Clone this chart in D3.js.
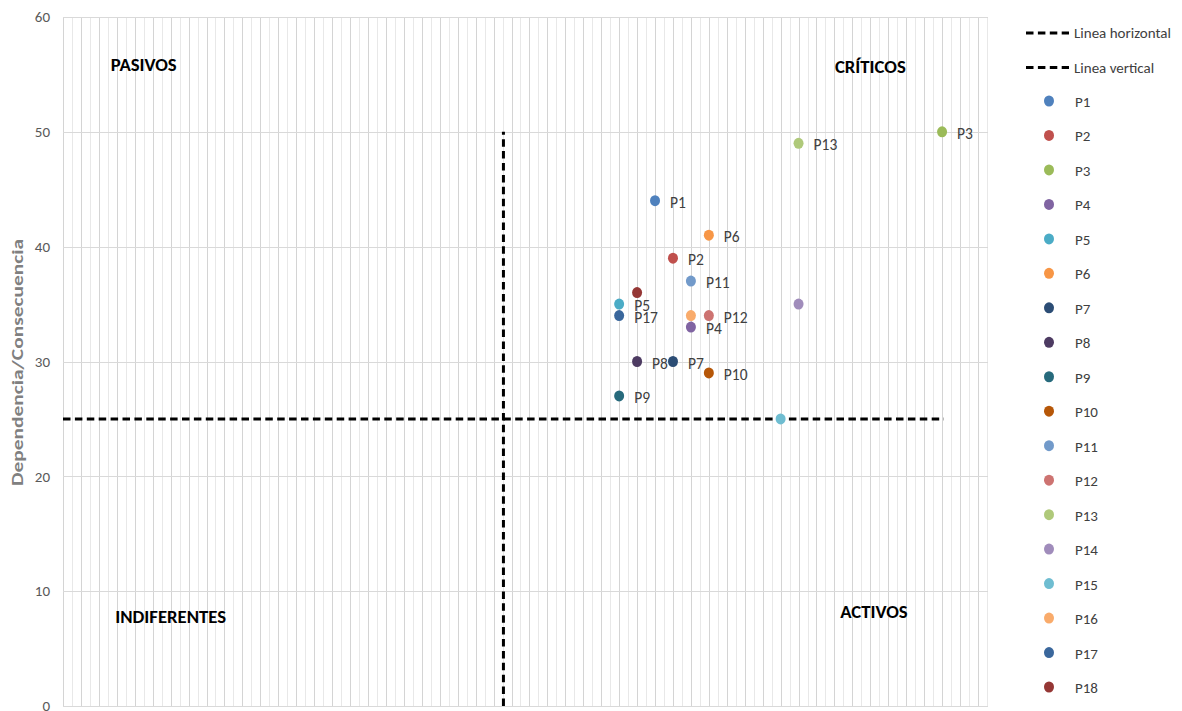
<!DOCTYPE html>
<html><head><meta charset="utf-8">
<script src="https://cdn.jsdelivr.net/npm/d3@7"></script>
<style>
body{margin:0;background:#fff;}
text{font-family:Carlito,"Liberation Sans Narrow","Open Sans",sans-serif;}
</style></head>
<body><svg id="chart" width="1182" height="711"></svg>
<script>
const names = ["P1","P2","P3","P4","P5","P6","P7","P8","P9","P10","P11","P12","P13","P14","P15","P16","P17","P18"];
const xValues = [34,35,50,36,32,37,35,33,32,37,36,37,42,42,41,36,32,33];
const yValues = [44,39,50,33,35,41,30,30,27,29,37,34,49,35,25,34,34,36];
const showLabel = [true,true,true,true,true,true,true,true,true,true,true,true,true,false,false,false,true,false];
const colors = ["#4F81BD","#C0504D","#9BBB59","#8064A2","#4BACC6","#F79646","#2C4D75","#4D3B62","#276A7C","#B65708","#729ACA","#CD7371","#AFC97A","#A08CBB","#6FBDD1","#F9AB6B","#3A679C","#953735"];
const yTicks = [0,10,20,30,40,50,60];
const hLine = [[1,25],[50.1,25]];
const vLine = [[25.55,0],[25.55,50]];
const quadrants = [
  {t:"PASIVOS", x:5.5, y:55.3},
  {t:"CRÍTICOS", x:46.0, y:55.1},
  {t:"INDIFERENTES", x:7.0, y:7.2},
  {t:"ACTIVOS", x:46.2, y:7.7}
];
const legendLines = ["Linea horizontal","Linea vertical"];

const svg = d3.select("#chart");
const L=63, R=988, T=17, B=706;
const x = d3.scaleLinear().domain([1,52.56]).range([L,R]);
const y = d3.scaleLinear().domain([0,60]).range([B,T]);

const g = svg.append("g");
// vertical gridlines every 0.5
const vg = d3.range(1,52.57,0.5);
g.selectAll(".vg").data(vg).enter().append("line")
  .attr("x1",d=>Math.round(x(d))+0.5).attr("x2",d=>Math.round(x(d))+0.5)
  .attr("y1",T).attr("y2",B)
  .attr("stroke",(d,i)=>i%2===0?"#d4d4d4":"#e8e8e8").attr("stroke-width",1);
// horizontal gridlines
g.selectAll(".hg").data(yTicks).enter().append("line")
  .attr("x1",L).attr("x2",R)
  .attr("y1",d=>Math.round(y(d))+0.5).attr("y2",d=>Math.round(y(d))+0.5)
  .attr("stroke","#d9d9d9").attr("stroke-width",1);

// y axis labels
const yAxis = d3.axisLeft(y).tickValues(yTicks).tickSize(0).tickPadding(13);
const ya = svg.append("g").attr("transform",`translate(${L},0)`).call(yAxis);
ya.select(".domain").remove();
ya.selectAll("text").attr("font-size","15px").attr("fill","#595959")
  .style("font-family",'Carlito,"Liberation Sans Narrow","Open Sans",sans-serif');

svg.append("text").attr("transform",`translate(23,${(T+B)/2+1}) rotate(-90)`)
  .attr("text-anchor","middle").attr("font-size","15px").attr("font-weight","bold")
  .attr("fill","#808080").attr("textLength",247).attr("lengthAdjust","spacingAndGlyphs")
  .text("Dependencia/Consecuencia");

// dashed lines
const line = d3.line().x(d=>x(d[0])).y(d=>y(d[1]));
[hLine,vLine].forEach(dat=>{
  svg.append("path").attr("d",line(dat)).attr("fill","none").attr("stroke","#000")
    .attr("stroke-width",3).attr("stroke-dasharray","7.5,4.4");
});

// quadrant labels
svg.selectAll(".q").data(quadrants).enter().append("text")
  .attr("x",d=>x(d.x)).attr("y",d=>y(d.y)).attr("text-anchor","middle")
  .attr("font-size","18.7px").attr("font-weight","bold").attr("fill","#000")
  .text(d=>d.t);

// points
const pts = names.map((n,i)=>({n,x:xValues[i],y:yValues[i],c:colors[i],s:showLabel[i]}));
svg.selectAll(".pt").data(pts).enter().append("ellipse")
  .attr("cx",d=>x(d.x)).attr("cy",d=>y(d.y)).attr("rx",5).attr("ry",5.5)
  .attr("fill",d=>d.c);
svg.selectAll(".lbl").data(pts.filter(d=>d.s)).enter().append("text")
  .attr("x",d=>x(d.x)+15).attr("y",d=>y(d.y)+7)
  .attr("font-size","15.5px").attr("fill","#404040").text(d=>d.n);

// legend
const lg = svg.append("g");
legendLines.forEach((t,i)=>{
  const yy = 33 + i*34.5;
  lg.append("line").attr("x1",1026).attr("x2",1069).attr("y1",yy).attr("y2",yy)
    .attr("stroke","#000").attr("stroke-width",3).attr("stroke-dasharray","7.5,4.4");
  lg.append("text").attr("x",1074).attr("y",yy+5).attr("font-size","15px").attr("fill","#404040").text(t);
});
pts.forEach((d,i)=>{
  const yy = 101 + i*34.47;
  lg.append("ellipse").attr("cx",1049).attr("cy",yy).attr("rx",5).attr("ry",5.5).attr("fill",d.c);
  lg.append("text").attr("x",1075).attr("y",yy+6).attr("font-size","15px").attr("fill","#404040").text(d.n);
});
</script></body></html>
